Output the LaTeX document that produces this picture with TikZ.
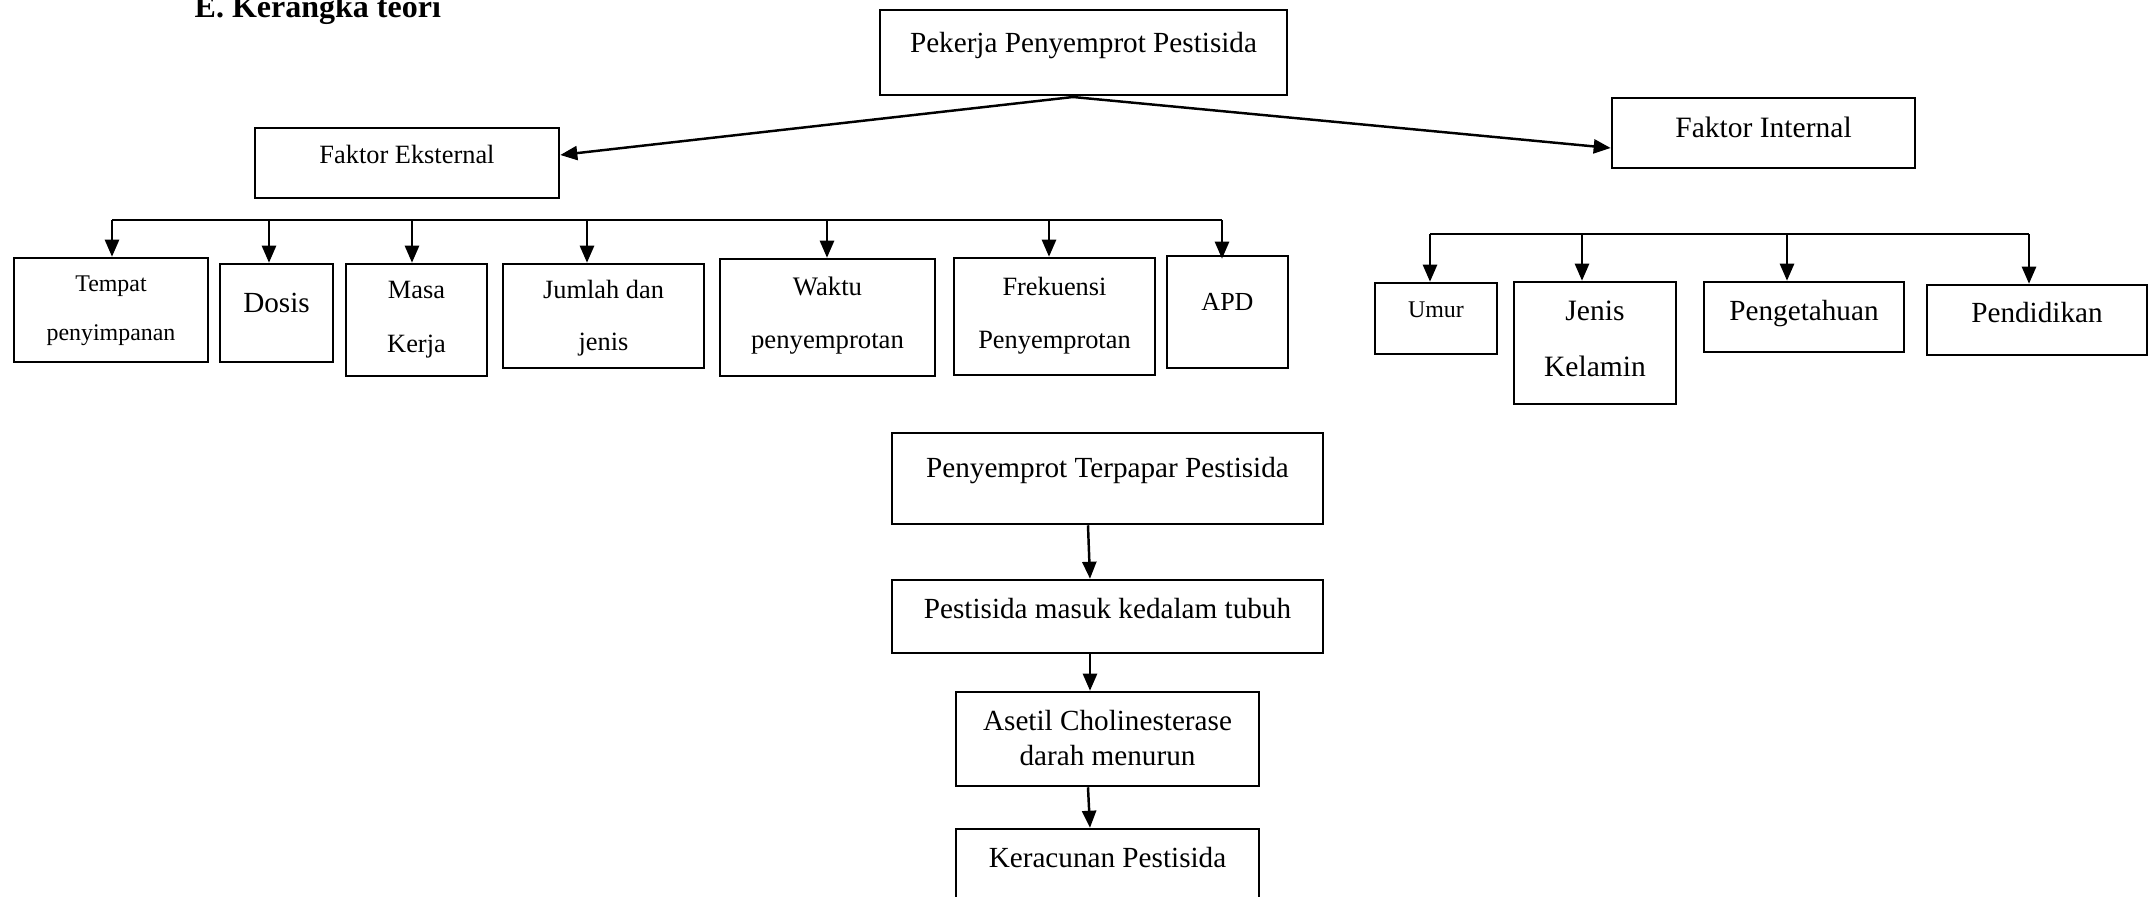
\documentclass[tikz,border=0pt]{standalone}
\usepackage{fontspec}
\setmainfont{Liberation Serif}
\usepackage{tikz}
\usetikzlibrary{arrows.meta}

\newcommand{\duabaris}[2]{\begin{tabular}[t]{@{}c@{}}#1\\#2\end{tabular}}

\tikzset{
  kotak/.style n args={3}{draw, line width=0.7pt, inner sep=0pt, anchor=base,
    minimum width=#1, text height=#2, text depth=#3},
  panah/.style={-{Triangle[length=0.17cm, width=0.14cm]}, line width=0.7pt},
  cabang/.style={line width=0.4pt}
}

\begin{document}
\begin{tikzpicture}[x=0.01cm, y=-0.01cm]
    \useasboundingbox (0,0) rectangle (2148,897);

    % judul
    \node[anchor=base west, inner sep=0pt, font=\fontsize{9.1}{11}\selectfont\bfseries] (judul) at (194,18) {E. Kerangka teori};

    % pekerja dan dua faktor
    \node[kotak={4.07cm}{0.42cm}{0.43cm}, font=\fontsize{8.3}{10}\selectfont] (pekerja) at (1083.5,52) {Pekerja Penyemprot Pestisida};
    \node[kotak={3.04cm}{0.35cm}{0.35cm}, font=\fontsize{7.5}{9}\selectfont] (eks) at (407,163) {Faktor Eksternal};
    \node[kotak={3.03cm}{0.39cm}{0.31cm}, font=\fontsize{8.4}{10}\selectfont] (int) at (1763.5,137) {Faktor Internal};

    \coordinate (puncak) at (1073,97);
    \draw[panah] (puncak) -- ([yshift=0.08cm]eks.east);
    \draw[panah] (puncak) -- ([yshift=-0.15cm]int.west);

    % faktor eksternal
    \node[kotak={1.94cm}{0.33cm}{0.71cm}, font=\fontsize{6.8}{14.2}\selectfont] (tempat) at (111,291) {\duabaris{Tempat}{penyimpanan}};
    \node[kotak={1.13cm}{0.48cm}{0.50cm}, font=\fontsize{8.3}{10}\selectfont] (dosis) at (276.5,312) {Dosis};
    \node[kotak={1.41cm}{0.34cm}{0.78cm}, font=\fontsize{7.5}{15.6}\selectfont] (masa) at (416.5,298) {\duabaris{Masa}{Kerja}};
    \node[kotak={2.01cm}{0.34cm}{0.70cm}, font=\fontsize{7.5}{14.8}\selectfont] (jumlah) at (603.5,298) {\duabaris{Jumlah dan}{jenis}};
    \node[kotak={2.15cm}{0.36cm}{0.81cm}, font=\fontsize{7.6}{15.1}\selectfont] (waktu) at (827.5,295) {\duabaris{Waktu}{penyemprotan}};
    \node[kotak={2.01cm}{0.37cm}{0.80cm}, font=\fontsize{7.5}{15.1}\selectfont] (frek) at (1054.5,295) {\duabaris{Frekuensi}{Penyemprotan}};
    \node[kotak={1.21cm}{0.54cm}{0.58cm}, font=\fontsize{7.4}{9}\selectfont] (apd) at (1227.5,310) {APD};

    \coordinate (e1) at (112,220);
    \coordinate (e2) at (269,220);
    \coordinate (e3) at (412,220);
    \coordinate (e4) at (587,220);
    \coordinate (e5) at (827,220);
    \coordinate (e6) at (1049,220);
    \coordinate (e7) at (1222,220);
    \draw[cabang] (e1) -- (e7);
    \draw[panah] (e1) -- (e1 |- tempat.north);
    \draw[panah] (e2) -- (e2 |- dosis.north);
    \draw[panah] (e3) -- (e3 |- masa.north);
    \draw[panah] (e4) -- (e4 |- jumlah.north);
    \draw[panah] (e5) -- (e5 |- waktu.north);
    \draw[panah] (e6) -- (e6 |- frek.north);
    \draw[panah] (e7) -- ([yshift=-0.04cm]e7 |- apd.north);

    % faktor internal
    \node[kotak={1.22cm}{0.34cm}{0.37cm}, font=\fontsize{6.8}{9}\selectfont] (umur) at (1436,317) {Umur};
    \node[kotak={1.62cm}{0.38cm}{0.84cm}, font=\fontsize{8.4}{16.2}\selectfont] (jenis) at (1595,320) {\duabaris{Jenis}{Kelamin}};
    \node[kotak={2.00cm}{0.38cm}{0.32cm}, font=\fontsize{8.3}{10}\selectfont] (penget) at (1804,320) {Pengetahuan};
    \node[kotak={2.20cm}{0.37cm}{0.33cm}, font=\fontsize{8.3}{10}\selectfont] (pend) at (2037,322) {Pendidikan};

    \coordinate (i1) at (1430,234);
    \coordinate (i2) at (1582,234);
    \coordinate (i3) at (1787,234);
    \coordinate (i4) at (2029,234);
    \draw[cabang] (i1) -- (i4);
    \draw[panah] (i1) -- (i1 |- umur.north);
    \draw[panah] (i2) -- (i2 |- jenis.north);
    \draw[panah] (i3) -- (i3 |- penget.north);
    \draw[panah] (i4) -- (i4 |- pend.north);

    % alur keracunan
    \node[kotak={4.31cm}{0.44cm}{0.47cm}, font=\fontsize{8.3}{10}\selectfont] (terpapar) at (1107.5,477) {Penyemprot Terpapar Pestisida};
    \node[kotak={4.31cm}{0.38cm}{0.35cm}, font=\fontsize{8.3}{10}\selectfont] (masuk) at (1107.5,618) {Pestisida masuk kedalam tubuh};
    \node[kotak={3.03cm}{0.38cm}{0.56cm}, font=\fontsize{8.3}{10}\selectfont] (asetil) at (1107.5,730) {\duabaris{Asetil Cholinesterase}{darah menurun}};
    \node[kotak={3.03cm}{0.38cm}{0.43cm}, font=\fontsize{8.3}{10}\selectfont] (keracunan) at (1107.5,867) {Keracunan Pestisida};

    \draw[panah] ([xshift=-0.195cm]terpapar.south) -- ([xshift=-0.175cm]masuk.north);
    \draw[panah] ([xshift=-0.175cm]masuk.south) -- ([xshift=-0.175cm]asetil.north);
    \draw[panah] ([xshift=-0.195cm]asetil.south) -- ([xshift=-0.175cm]keracunan.north);

\end{tikzpicture}
\end{document}
